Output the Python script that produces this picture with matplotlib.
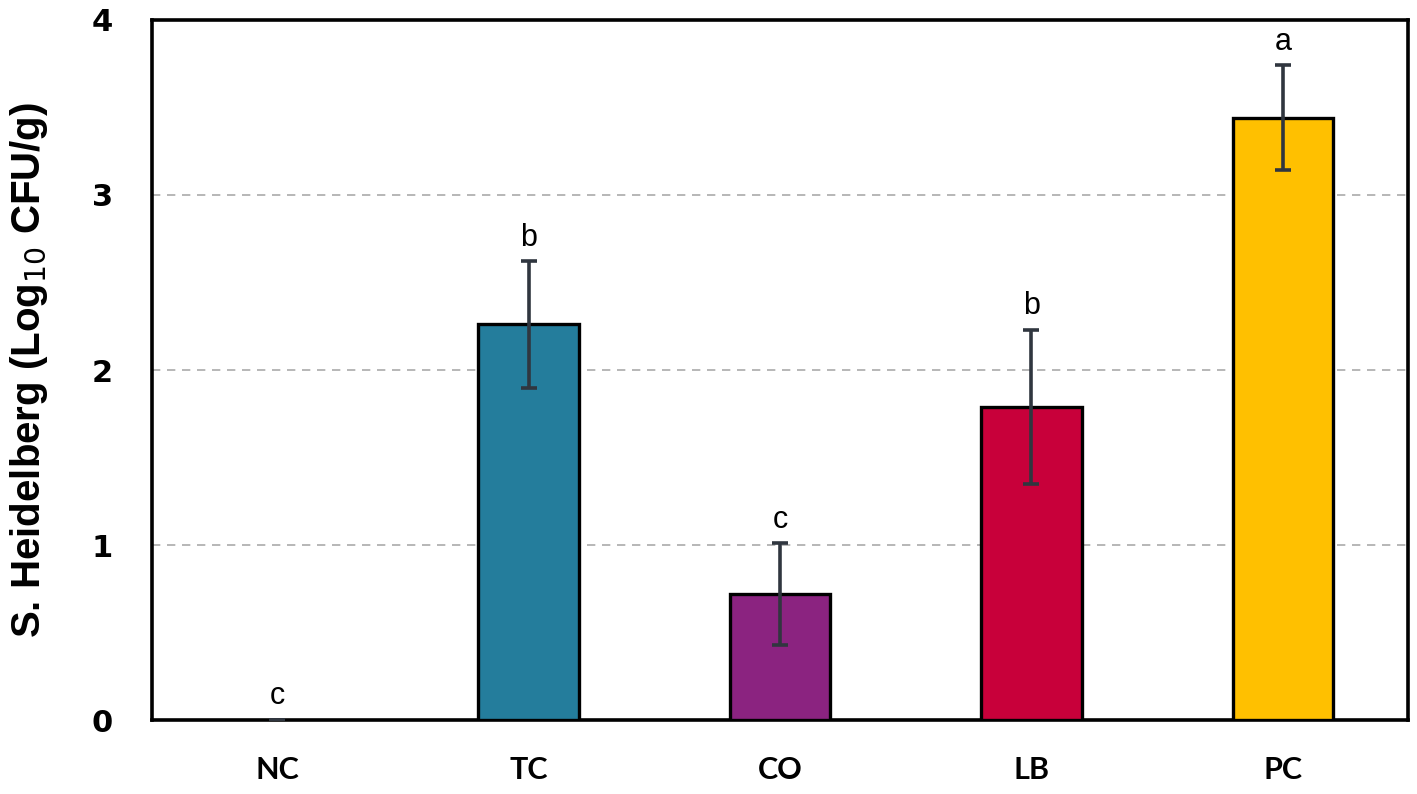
import numpy as np
import matplotlib
matplotlib.use("Agg")
import matplotlib.pyplot as plt

groups = ["NC", "TC", "CO", "LB", "PC"]
means = [0.0, 2.26, 0.72, 1.79, 3.44]
errors = [0.0, 0.36, 0.29, 0.44, 0.30]
letters = ["c", "b", "c", "b", "a"]
colors = ["#FFFFFF", "#247D9C", "#8B2380", "#C8003A", "#FFC000"]


def main() -> None:
	fig = plt.figure(figsize=(14.17, 7.94), dpi=100)
	ax = fig.add_axes([0.107, 0.093, 0.887, 0.882])

	x = np.arange(len(groups))
	bars = ax.bar(x, means, width=0.4, color=colors, edgecolor="black",
				  linewidth=2.4, zorder=3)
	bars[0].set_linewidth(0)
	ax.errorbar(x, means, yerr=errors, fmt="none", ecolor="#30363F",
				elinewidth=2.6, capsize=6, capthick=2.6, zorder=4)

	for xi, m, e, lab in zip(x, means, errors, letters):
		ax.text(xi, m + e + 0.05, lab, ha="center", va="bottom",
				fontsize=22, family=["Liberation Sans", "DejaVu Sans"], zorder=5)

	ax.set_xlim(-0.5, 4.5)
	ax.set_ylim(0, 4)
	ax.set_yticks([0, 1, 2, 3, 4])
	ax.yaxis.grid(True, linestyle=(0, (5, 4)), color="#AAAAAA", linewidth=1.2, zorder=0)
	ax.set_axisbelow(True)

	ax.set_xticks(x)
	ax.set_xticklabels(groups, fontsize=22, fontweight="bold", family=["Lato", "DejaVu Sans"])
	for lab in ax.get_yticklabels():
		lab.set_fontsize(22)
		lab.set_fontweight("bold")
		lab.set_family("DejaVu Sans")
	ax.tick_params(axis="x", length=0, pad=26)
	ax.tick_params(axis="y", length=0, pad=28)

	ax.set_ylabel("S. Heidelberg (Log$_{10}$ CFU/g)", fontsize=29, fontweight="bold",
				  family=["Liberation Sans", "DejaVu Sans"], labelpad=30)

	for s in ax.spines.values():
		s.set_linewidth(2.6)

	fig.savefig("out.png", dpi=100)


if __name__ == "__main__":
	main()
